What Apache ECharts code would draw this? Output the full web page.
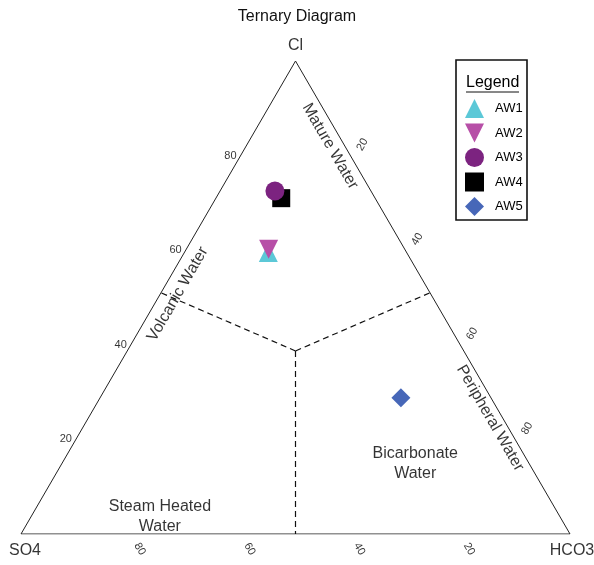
<!DOCTYPE html>
<html>
<head>
<meta charset="utf-8">
<script src="https://cdn.jsdelivr.net/npm/echarts@6/dist/echarts.min.js"></script>
<style>
html,body{margin:0;padding:0;background:#fff;}
#chart{width:594px;height:565px;}
</style>
</head>
<body>
<div id="chart"></div>
<script>
// ---- Data (percent compositions) ----
const categories = ['AW1', 'AW2', 'AW3', 'AW4', 'AW5'];
const clValues   = [59.5, 60.2, 72.5, 71.0, 28.8];
const so4Values  = [25.2, 24.8, 17.5, 17.1, 16.4];
const hco3Values = [15.3, 15.0, 10.0, 11.9, 54.8];

const vertexNames = ['Cl', 'SO4', 'HCO3'];
const tickValues = [20, 40, 60, 80];

// Field boundaries: junction then the three edge ends
const boundaryCl   = [38.7, 51, 51, 0];
const boundarySO4  = [30.65, 49, 0, 50];
const boundaryHCO3 = [30.65, 0, 49, 50];

// Field names and where they sit (ternary composition)
const regionNames = ['Mature Water', 'Volcanic Water', 'Peripheral Water', 'Bicarbonate\nWater', 'Steam Heated\nWater'];
const regionCl    = [82.0, 50.7, 24.5, 14.8, 3.6];
const regionSO4   = [2.7, 46.1, 2.3, 20.8, 72.9];
const regionHCO3  = [15.3, 3.2, 73.2, 64.4, 23.5];

const colors = ['#5cc8d7', '#b74fa7', '#7c2380', '#000000', '#4767b8'];
const symbols = ['triangle', 'path://M0,0 L10,0 L5,10 Z', 'circle', 'rect', 'diamond'];
const symbolSizes = [19, 19, 19, 18, 19];

// ---- helpers ----
const H = Math.sqrt(3) / 2 * 100;
function toXY(cl, so4, hco3) {
  const s = cl + so4 + hco3;
  return [(hco3 + cl / 2) / s * 100, cl / s * H];
}
// pixel nudge for label anchors (grid: 549 x 473 px)
const PX = 549 / 100, PY = 473 / H;
function nudge(p, dx, dy) { return [p[0] + dx / PX, p[1] - dy / PY]; }

const vCl = toXY(100, 0, 0), vSO4 = toXY(0, 100, 0), vHCO3 = toXY(0, 0, 100);

const junction = toXY(boundaryCl[0], boundarySO4[0], boundaryHCO3[0]);
const dashSeries = [1, 2, 3].map(i => ({
  type: 'line', silent: true, symbol: 'none', z: 2,
  lineStyle: { color: '#111', width: 1.2, type: [6, 4] },
  data: [junction, toXY(boundaryCl[i], boundarySO4[i], boundaryHCO3[i])]
}));

const labelBase = { show: true, position: 'inside', color: '#000', fontFamily: 'Liberation Sans, Arial, sans-serif' };

// Left edge (Cl axis)
const leftTicks = tickValues.map(v => ({ value: nudge(toXY(v, 100 - v, 0), -4, 0), name: String(v) }));
// Right edge (HCO3 from apex)
const rightTicks = tickValues.map(v => ({ value: nudge(toXY(100 - v, 0, v), 12, -11), name: String(v) }));
// Bottom edge (SO4)
const bottomTicks = tickValues.map(v => ({ value: nudge(toXY(0, v, 100 - v), 9, 15), name: String(v) }));

function textSeries(data, label) {
  return {
    type: 'scatter', symbolSize: 0, silent: true, z: 3, clip: false,
    data: data,
    label: Object.assign({}, labelBase, { formatter: p => p.name }, label)
  };
}

const regionRot = [-60, 60, -60, 0, 0];
const regionData = regionNames.map((n, i) => ({
  value: toXY(regionCl[i], regionSO4[i], regionHCO3[i]), name: n,
  label: { rotate: regionRot[i] }
}));

const vertexData = [
  { value: nudge(vCl, 0, -15), name: vertexNames[0] },
  { value: nudge(vSO4, 4, 17), name: vertexNames[1] },
  { value: nudge(vHCO3, 2, 17), name: vertexNames[2] }
];

const drawOrder = [0, 1, 3, 2, 4];
const pointSeries = drawOrder.map(i => ({
  type: 'scatter', name: categories[i], z: 5,
  symbol: symbols[i], symbolSize: symbolSizes[i], symbolKeepAspect: true,
  itemStyle: { color: colors[i], opacity: 1 },
  data: [toXY(clValues[i], so4Values[i], hco3Values[i])]
}));

const chart = echarts.init(document.getElementById('chart'), null, { renderer: 'canvas' });
chart.setOption({
  animation: false,
  backgroundColor: '#fff',
  title: {
    text: 'Ternary Diagram', left: 'center', top: 4,
    textStyle: { fontSize: 16, fontWeight: 'normal', color: '#111', fontFamily: 'Liberation Sans, Arial, sans-serif' }
  },
  grid: { left: 21, top: 61, width: 549, height: 473, containLabel: false },
  xAxis: { type: 'value', min: 0, max: 100, show: false },
  yAxis: { type: 'value', min: 0, max: H, show: false },
  legend: {
    data: categories.map((c, i) => ({ name: c, icon: symbols[i] })),
    orient: 'vertical', left: 460, top: 94,
    itemWidth: 19, itemHeight: 19, itemGap: 5.5,
    textStyle: { fontSize: 13, color: '#000', padding: [0, 0, 0, 6], fontFamily: 'Liberation Sans, Arial, sans-serif' },
    selectedMode: false
  },
  graphic: [
    { type: 'rect', shape: { x: 456, y: 60, width: 71, height: 160 }, style: { fill: 'none', stroke: '#111', lineWidth: 1.6 }, z: 10 },
    { type: 'text', left: 466, top: 75, style: { text: 'Legend', fontSize: 16, fill: '#000', fontFamily: 'Liberation Sans, Arial, sans-serif' }, z: 10 },
    { type: 'line', shape: { x1: 466, y1: 92, x2: 519, y2: 92 }, style: { stroke: '#111', lineWidth: 1 }, z: 10 }
  ],
  series: [
    {
      type: 'line', silent: true, symbol: 'none', z: 2,
      lineStyle: { color: '#222', width: 1 },
      data: [vSO4, vHCO3, vCl, vSO4]
    },
    ...dashSeries,
    textSeries(leftTicks, { fontSize: 11, align: 'right' }),
    textSeries(rightTicks, { fontSize: 11, rotate: 60 }),
    textSeries(bottomTicks, { fontSize: 11, rotate: -60 }),
    textSeries(vertexData, { fontSize: 16 }),
    textSeries(regionData, { fontSize: 16, lineHeight: 20 }),
    ...pointSeries
  ]
});
</script>
</body>
</html>
